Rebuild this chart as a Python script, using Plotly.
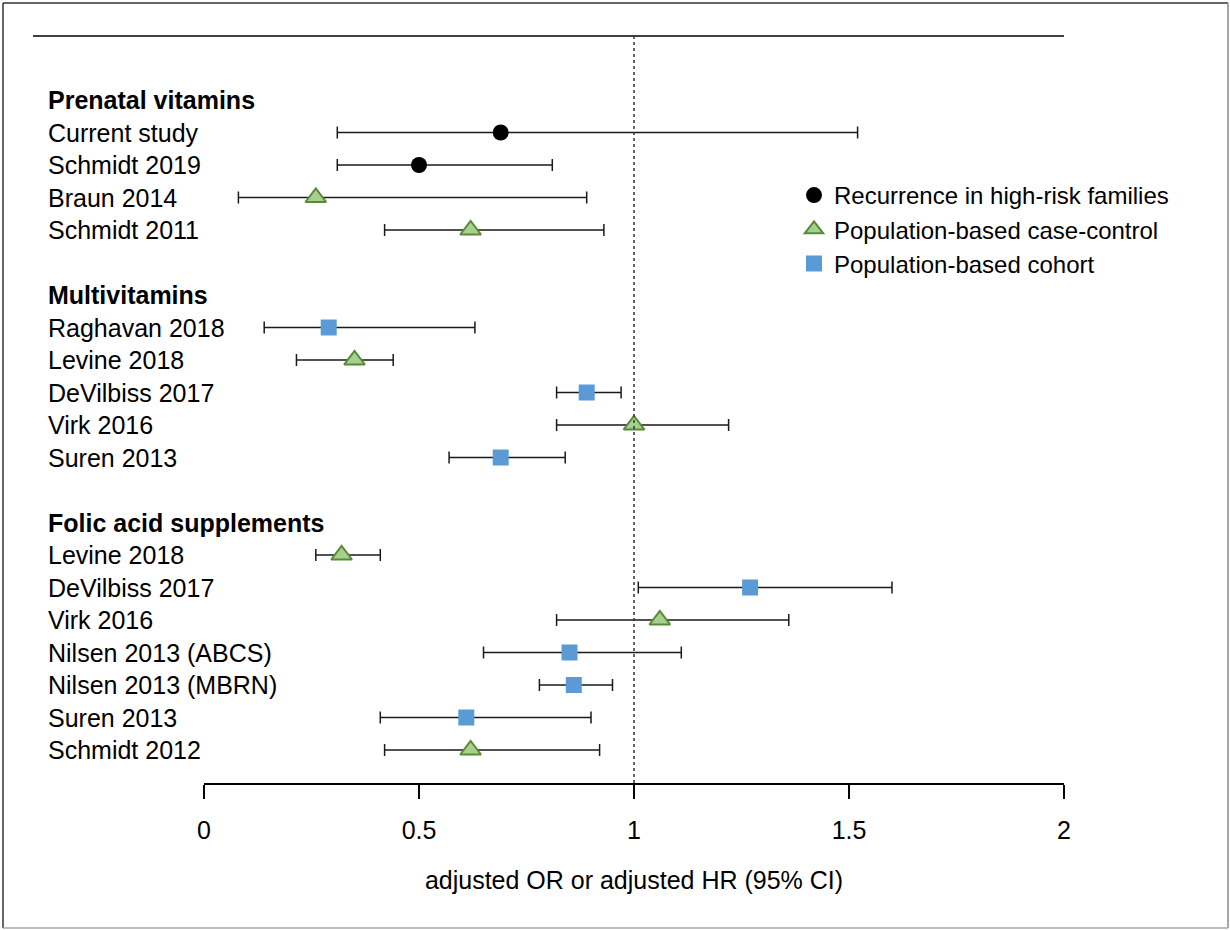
import plotly.graph_objects as go

# ---- data ----
headers = ["Prenatal vitamins", "Multivitamins", "Folic acid supplements"]
header_rows = [0, 6, 13]

study_labels = ["Current study", "Schmidt 2019", "Braun 2014", "Schmidt 2011",
                "Raghavan 2018", "Levine 2018", "DeVilbiss 2017", "Virk 2016", "Suren 2013",
                "Levine 2018", "DeVilbiss 2017", "Virk 2016", "Nilsen 2013 (ABCS)",
                "Nilsen 2013 (MBRN)", "Suren 2013", "Schmidt 2012"]
study_rows = [1, 2, 3, 4, 7, 8, 9, 10, 11, 14, 15, 16, 17, 18, 19, 20]
estimate = [0.69, 0.50, 0.26, 0.62, 0.29, 0.35, 0.89, 1.00, 0.69,
            0.32, 1.27, 1.06, 0.85, 0.86, 0.61, 0.62]
ci_low = [0.31, 0.31, 0.08, 0.42, 0.14, 0.215, 0.82, 0.82, 0.57,
          0.26, 1.01, 0.82, 0.65, 0.78, 0.41, 0.42]
ci_high = [1.52, 0.81, 0.89, 0.93, 0.63, 0.44, 0.97, 1.22, 0.84,
           0.41, 1.60, 1.36, 1.11, 0.95, 0.90, 0.92]
design = ["fam", "fam", "cc", "cc", "coh", "cc", "coh", "cc", "coh",
          "cc", "coh", "cc", "coh", "coh", "coh", "cc"]

design_names = {"fam": "Recurrence in high-risk families",
                "cc": "Population-based case-control",
                "coh": "Population-based cohort"}
x_ticks = [0, 0.5, 1, 1.5, 2]
x_ticktext = ["0", "0.5", "1", "1.5", "2"]
x_title = "adjusted OR or adjusted HR (95% CI)"

# ---- styles ----
FONT = "Liberation Sans, Arial, Helvetica, sans-serif"
FS = 25
LFS = 24
marker_styles = {
    "fam": dict(symbol="circle", size=16, color="black", line=dict(width=0)),
    "cc": dict(symbol="triangle-up", size=18, color="#a6d08e", line=dict(width=2, color="#5a8a38")),
    "coh": dict(symbol="square", size=16, color="#5b9bd5", line=dict(width=0)),
}

fig = go.Figure()
for key in ["fam", "cc", "coh"]:
    idx = [i for i, d in enumerate(design) if d == key]
    xs = [estimate[i] for i in idx]
    ys = [study_rows[i] for i in idx]
    plus = [ci_high[i] - estimate[i] for i in idx]
    minus = [estimate[i] - ci_low[i] for i in idx]
    fig.add_trace(go.Scatter(
        x=xs, y=ys, mode="markers", name=design_names[key],
        marker=marker_styles[key],
        error_x=dict(type="data", symmetric=False, array=plus, arrayminus=minus,
                     color="#1a1a1a", thickness=1.5, width=6),
        hoverinfo="skip",
    ))

# layout geometry
L, R, T, B = 204, 166, 36, 147
W, H = 1230, 930
pw = W - L - R
ph = H - T - B

def px_x(p):
    return (p - L) / pw

def px_y(p):
    return (H - B - p) / ph

annotations = []
for lab, r in zip(headers, header_rows):
    annotations.append(dict(x=px_x(46), y=r, xref="paper", yref="y", text="<b>%s</b>" % lab,
                            showarrow=False, xanchor="left", yanchor="middle",
                            font=dict(family=FONT, size=FS, color="black")))
for lab, r in zip(study_labels, study_rows):
    annotations.append(dict(x=px_x(46), y=r, xref="paper", yref="y", text=lab,
                            showarrow=False, xanchor="left", yanchor="middle",
                            font=dict(family=FONT, size=FS, color="black")))

shapes = [
    # top rule
    dict(type="line", xref="paper", yref="paper", x0=px_x(33), x1=1, y0=1, y1=1,
         line=dict(color="black", width=1.5)),
    # reference line at 1
    dict(type="line", xref="x", yref="paper", x0=1, x1=1, y0=0, y1=1,
         line=dict(color="#333", width=1.5, dash="dot")),
    # outer frame (left/top darker, right/bottom lighter)
    dict(type="line", xref="paper", yref="paper", x0=px_x(3), x1=px_x(3),
         y0=px_y(928), y1=px_y(3), line=dict(color="#333", width=1.5)),
    dict(type="line", xref="paper", yref="paper", x0=px_x(3), x1=px_x(1228),
         y0=px_y(3), y1=px_y(3), line=dict(color="#333", width=1.5)),
    dict(type="line", xref="paper", yref="paper", x0=px_x(1228), x1=px_x(1228),
         y0=px_y(928), y1=px_y(3), line=dict(color="#888", width=1.5)),
    dict(type="line", xref="paper", yref="paper", x0=px_x(3), x1=px_x(1228),
         y0=px_y(928), y1=px_y(928), line=dict(color="#aaa", width=1.5)),
]

fig.update_layout(
    width=W, height=H,
    margin=dict(l=L, r=R, t=T, b=B),
    paper_bgcolor="white", plot_bgcolor="white",
    font=dict(family=FONT, size=FS, color="black"),
    showlegend=True,
    legend=dict(x=px_x(794), y=px_y(173), xanchor="left", yanchor="top",
                font=dict(family=FONT, size=LFS, color="black"),
                bgcolor="rgba(0,0,0,0)", tracegroupgap=0),
    annotations=annotations,
    shapes=shapes,
    xaxis=dict(range=[0, 2], tickvals=x_ticks, ticktext=x_ticktext,
               showline=True, linecolor="black", linewidth=1.5,
               ticks="outside", ticklen=14, tickwidth=1.5, tickcolor="black",
               showgrid=False, zeroline=False, ticklabelstandoff=10,
               tickfont=dict(family=FONT, size=FS, color="black"),
               title=dict(text=x_title, standoff=29, font=dict(family=FONT, size=FS, color="black"))),
    yaxis=dict(range=[20 + 33 / 32.5, -64 / 32.5], showticklabels=False, showgrid=False,
               zeroline=False, showline=False, ticks=""),
)

fig.write_html("out.html")
